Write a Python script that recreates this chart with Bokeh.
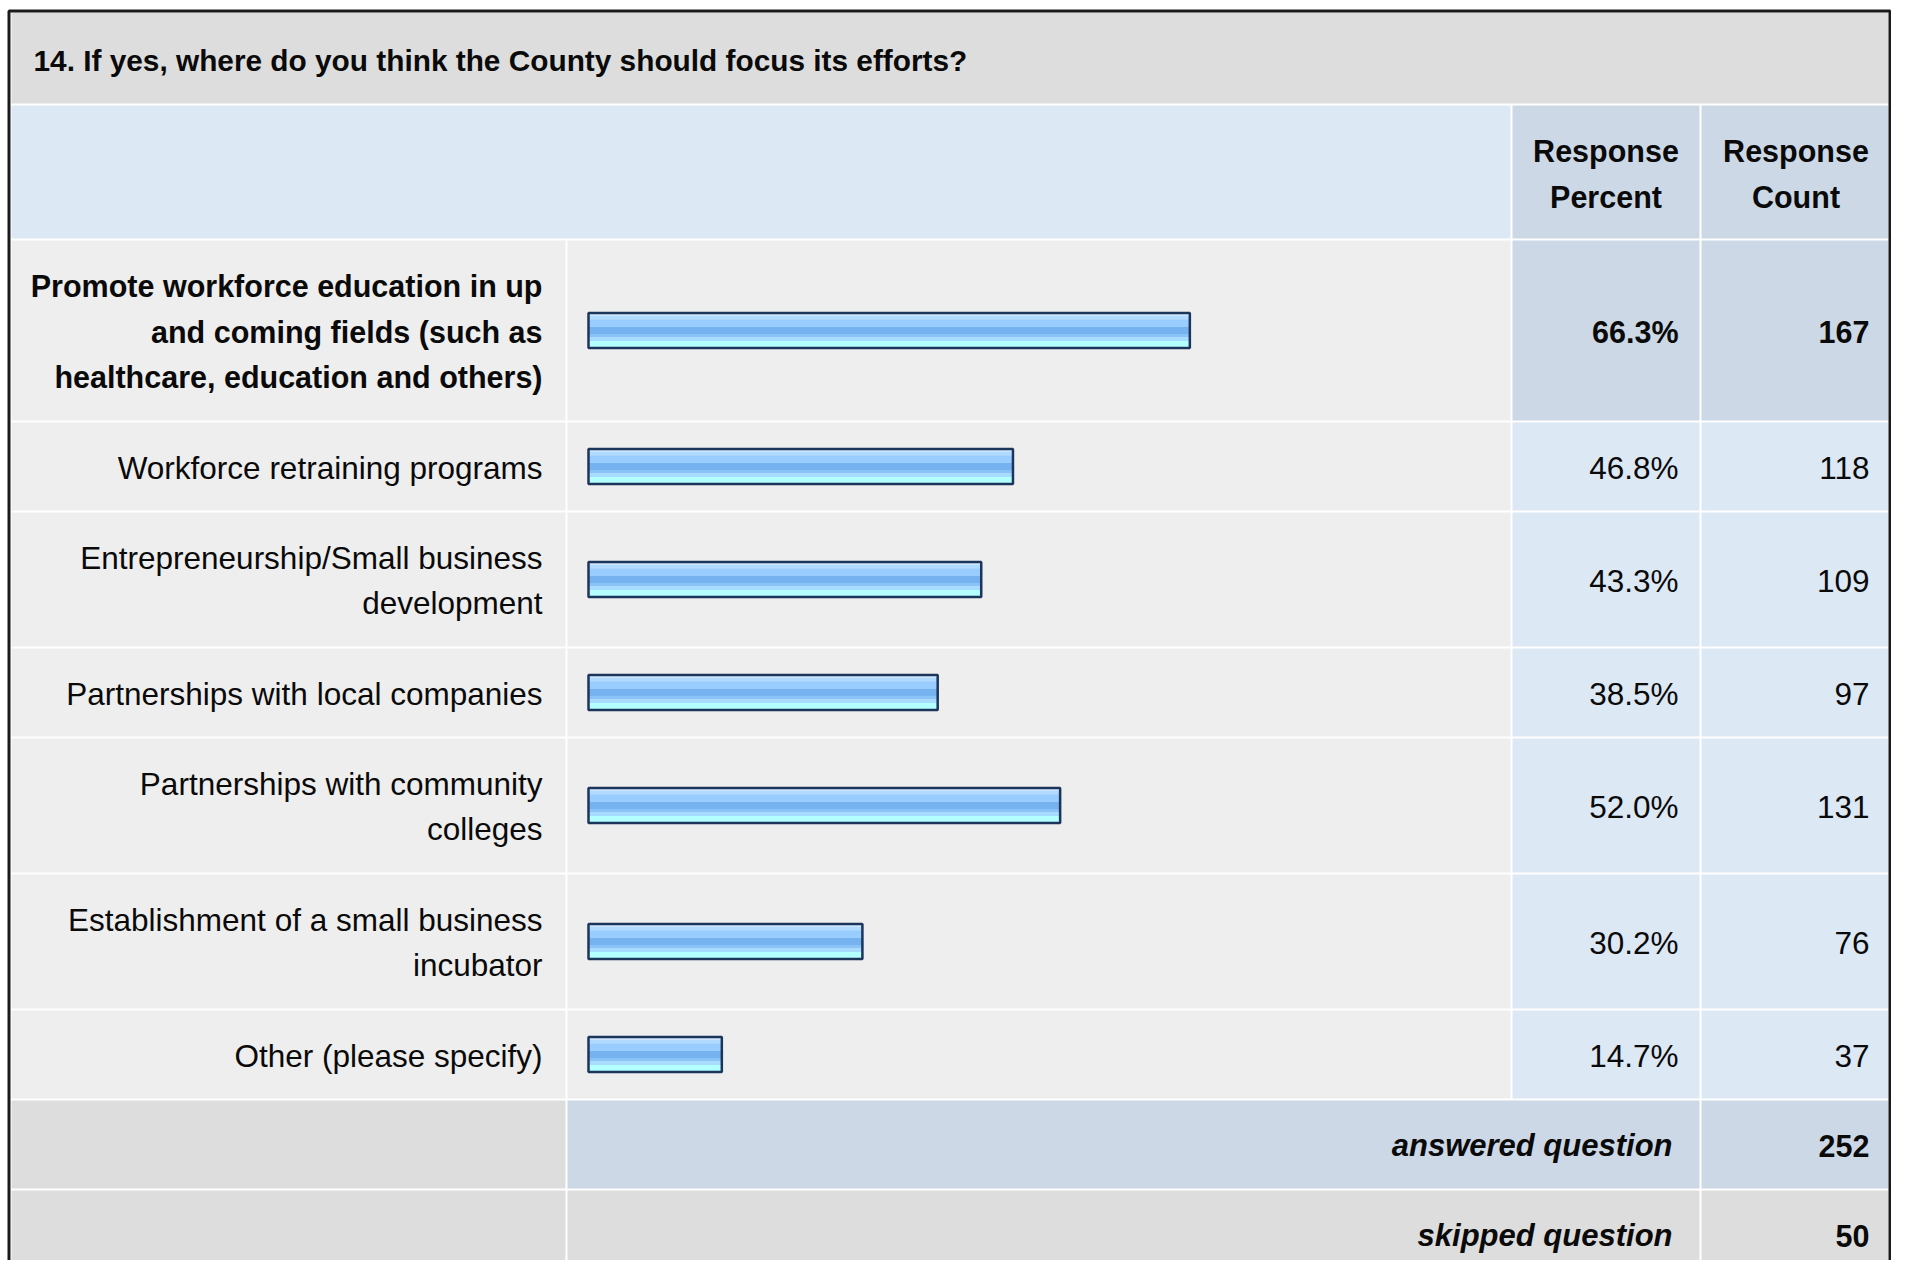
from bokeh.plotting import figure
from bokeh.models import Range1d
from bokeh.core.properties import value
from bokeh.embed import file_html
from bokeh.resources import INLINE

# ---------------- data ----------------
title = "14. If yes, where do you think the County should focus its efforts?"
categories = [
    "Promote workforce education in up\nand coming fields (such as\nhealthcare, education and others)",
    "Workforce retraining programs",
    "Entrepreneurship/Small business\ndevelopment",
    "Partnerships with local companies",
    "Partnerships with community\ncolleges",
    "Establishment of a small business\nincubator",
    "Other (please specify)",
]
percents = [66.3, 46.8, 43.3, 38.5, 52.0, 30.2, 14.7]
counts = [167, 118, 109, 97, 131, 76, 37]
highlighted = [True, False, False, False, False, False, False]
header_percent = "Response\nPercent"
header_count = "Response\nCount"
answered_label = "answered question"
answered = 252
skipped_label = "skipped question"
skipped = 50

# ---------------- layout / style ----------------
W, H = 1891, 1260
FONT = value("Liberation Sans")
REG = "31.5px"
BOLD = "30.5px"
BOLDI = "31px"
TITLE = "29.8px"
LH = 45.5
GAP = 2

XL0, XL1 = 11, 565       # label column
XB0, XB1 = 567, 1510     # bar column
XP0, XP1 = 1512, 1699    # percent column
XC0, XC1 = 1701, 1888    # count column
PX0, PX_PER = 588, 9.07  # bar zero position and pixels per percent
BAR_H = 35

C_TITLE = "#dddddd"
C_LIGHT = "#eeeeee"
C_BLUE = "#dde8f5"
C_BLUE2 = "#ccd8e6"
C_GREY = "#dddddd"
TXT = "#0a0a0a"

p = figure(width=W, height=H, output_backend="svg", toolbar_location=None,
           x_range=Range1d(0, W), y_range=Range1d(H, 0),
           x_axis_location=None, y_axis_location=None, min_border=0)
p.grid.visible = False
p.outline_line_color = None
p.background_fill_color = "white"
p.border_fill_color = "white"
p.extra_x_ranges = {"pct": Range1d(-PX0 / PX_PER, (W - PX0) / PX_PER)}


def cell(x0, x1, y0, y1, color):
    p.quad(left=[x0], right=[x1], top=[y0], bottom=[y1], fill_color=color, line_color=None)


def text(x, yc, s, align, style, size):
    lines = s.split("\n")
    n = len(lines)
    ys = [yc + (i - (n - 1) / 2) * LH for i in range(n)]
    p.text(x=[x] * n, y=ys, text=lines, text_align=align, text_baseline="middle",
           text_font=FONT, text_font_size=size, text_font_style=style, text_color=TXT)


# title band
T0, T1 = 12, 103
cell(XL0, XC1, T0, T1, C_TITLE)
text(33, (T0 + T1) / 2 + 2, title, "left", "bold", TITLE)

# header band
H0, H1 = 105, 238
cell(XL0, XB1, H0, H1, C_BLUE)
cell(XP0, XP1, H0, H1, C_BLUE2)
cell(XC0, XC1, H0, H1, C_BLUE2)
text((XP0 + XP1) / 2, (H0 + H1) / 2 + 2, header_percent, "center", "bold", BOLD)
text((XC0 + XC1) / 2 + 1, (H0 + H1) / 2 + 2, header_count, "center", "bold", BOLD)

# stripes of the bar gradient (fractions of bar height, top to bottom)
stripes = [
    (0.00, 0.08, "#cfe7ff"),
    (0.08, 0.18, "#b0daff"),
    (0.18, 0.40, "#99ccff"),
    (0.40, 0.60, "#76b1f0"),
    (0.60, 0.70, "#8ac3f8"),
    (0.70, 0.80, "#a6dcff"),
    (0.80, 1.00, "#b4ffff"),
]

y = H1 + GAP
for cat, pct, cnt, hl in zip(categories, percents, counts, highlighted):
    n = len(cat.split("\n"))
    rh = 42 + 46 * n
    y0, y1 = y, y + rh
    yc = (y0 + y1) / 2
    cell(XL0, XL1, y0, y1, C_LIGHT)
    cell(XB0, XB1, y0, y1, C_LIGHT)
    cell(XP0, XP1, y0, y1, C_BLUE2 if hl else C_BLUE)
    cell(XC0, XC1, y0, y1, C_BLUE2 if hl else C_BLUE)
    style = "bold" if hl else "normal"
    size = BOLD if hl else REG
    text(542, yc + 1, cat, "right", style, size)
    text(1678, yc + 1, f"{pct:.1f}%", "right", style, size)
    text(1869, yc + 1, f"{cnt}", "right", style, size)
    b0 = yc - BAR_H / 2
    for f0, f1, col in stripes:
        p.quad(left=[0], right=[pct], top=[b0 + f0 * BAR_H], bottom=[b0 + f1 * BAR_H],
               fill_color=col, line_color=None, x_range_name="pct")
    p.quad(left=[0], right=[pct], top=[b0], bottom=[b0 + BAR_H], fill_color=None,
           line_color="#1c355a", line_width=2.5, x_range_name="pct")
    y = y1 + GAP

# answered row
y0, y1 = y, y + 88
cell(XL0, XL1, y0, y1, C_GREY)
cell(XB0, XP1, y0, y1, C_BLUE2)
cell(XC0, XC1, y0, y1, C_BLUE2)
text(1672, (y0 + y1) / 2 + 1, answered_label, "right", "bold italic", BOLDI)
text(1869, (y0 + y1) / 2 + 1, f"{answered}", "right", "bold", BOLD)
y = y1 + GAP

# skipped row
y0, y1 = y, y + 88
cell(XL0, XL1, y0, y1, C_GREY)
cell(XB0, XP1, y0, y1, C_GREY)
cell(XC0, XC1, y0, y1, C_GREY)
text(1672, (y0 + y1) / 2 + 1, skipped_label, "right", "bold italic", BOLDI)
text(1869, (y0 + y1) / 2 + 1, f"{skipped}", "right", "bold", BOLD)

# outer frame
p.line(x=[8.5, 8.5, 1889.5, 1889.5], y=[1300, 10.5, 10.5, 1300], line_color="#1a1a1a", line_width=3)

open("out.html", "w").write(file_html(p, INLINE))
